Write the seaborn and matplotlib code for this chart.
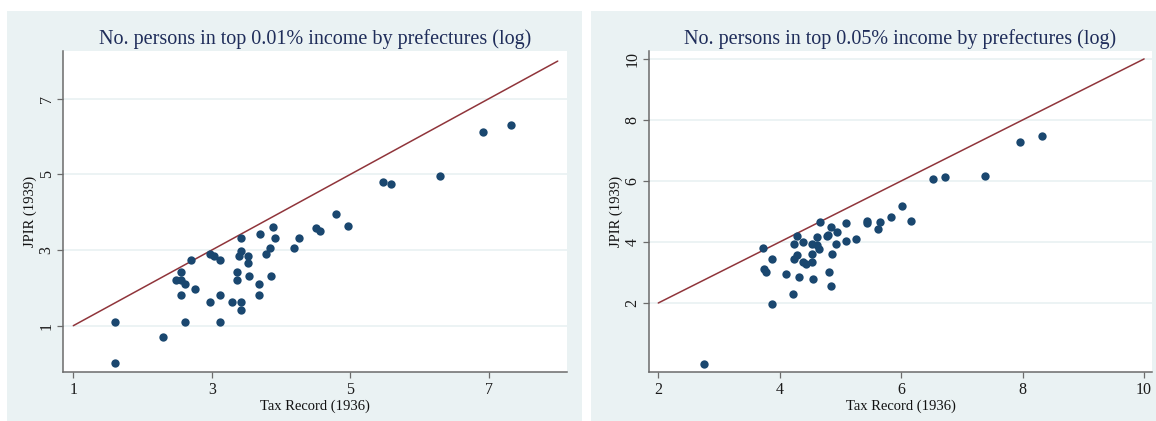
import matplotlib
matplotlib.use("Agg")
import matplotlib.pyplot as plt
import seaborn as sns
import pandas as pd
from matplotlib.patches import Rectangle

# ---------------- data ----------------
left_title = "No. persons in top 0.01% income by prefectures (log)"
right_title = "No. persons in top 0.05% income by prefectures (log)"
x_label = "Tax Record (1936)"
y_label = "JPIR (1939)"

left_tax = [1.60, 1.60, 2.30, 2.70, 2.55, 2.48, 2.55, 2.62, 2.76, 2.55, 2.62, 2.98,
            3.04, 3.12, 2.98, 3.12, 3.12, 3.29, 3.42, 3.42, 3.39, 3.52, 3.52, 3.36,
            3.36, 3.54, 3.42, 3.42, 3.70, 3.88, 3.91, 3.84, 3.79, 3.68, 3.68, 3.86,
            4.19, 4.26, 4.51, 4.56, 4.79, 4.97, 5.47, 5.59, 6.30, 6.92, 7.33]
left_jpir = [1.11, 0.00, 0.70, 2.74, 2.41, 2.21, 2.21, 2.10, 1.96, 1.80, 1.11, 2.90,
             2.85, 2.73, 1.63, 1.80, 1.11, 1.63, 3.31, 2.98, 2.85, 2.85, 2.66, 2.41,
             2.21, 2.32, 1.63, 1.41, 3.43, 3.60, 3.31, 3.06, 2.90, 2.10, 1.80, 2.32,
             3.06, 3.31, 3.58, 3.51, 3.95, 3.64, 4.81, 4.76, 4.96, 6.12, 6.31]

right_tax = [2.76, 3.73, 3.74, 3.77, 3.88, 3.88, 4.11, 4.22, 4.28, 4.24, 4.28, 4.23,
             4.38, 4.31, 4.38, 4.43, 4.53, 4.53, 4.55, 4.53, 4.62, 4.65, 4.62, 4.66,
             4.77, 4.80, 4.84, 4.94, 4.86, 4.92, 4.81, 4.85, 5.09, 5.09, 5.26, 5.43,
             5.43, 5.61, 5.65, 5.83, 6.02, 6.16, 6.52, 6.72, 7.38, 7.95, 8.32]
right_jpir = [0.00, 3.81, 3.11, 3.01, 3.44, 1.96, 2.95, 2.31, 4.20, 3.93, 3.58, 3.44,
              4.00, 2.85, 3.36, 3.27, 3.34, 3.62, 2.79, 3.93, 3.90, 3.77, 4.16, 4.65,
              4.21, 4.24, 4.48, 4.34, 3.62, 3.92, 3.01, 2.57, 4.61, 4.04, 4.10, 4.70,
              4.61, 4.43, 4.66, 4.83, 5.17, 4.70, 6.06, 6.14, 6.17, 7.27, 7.49]

left_line = [1, 8]      # 45-degree reference line
right_line = [2, 10]
left_ticks = [1, 3, 5, 7]
right_ticks = [2, 4, 6, 8, 10]

# ---------------- style ----------------
sns.set_theme(style="white")
plt.rcParams['font.family'] = ['Liberation Serif', 'DejaVu Serif']

BG = '#eaf2f3'
NAVY = '#1a476f'
MAROON = '#90353b'
AXC = '#6b6b6b'
TITLEC = '#1f2d5a'

W, H = 1156, 421
fig = plt.figure(figsize=(W / 100, H / 100), dpi=100)
fig.patch.set_facecolor('white')

# background panel axes (drawn first)
bgax = fig.add_axes([0, 0, 1, 1], zorder=-5)
bgax.set_xlim(0, W)
bgax.set_ylim(H, 0)
bgax.axis('off')
for x0, x1 in [(7, 582), (591, 1156)]:
    bgax.add_patch(Rectangle((x0, 11), x1 - x0, H - 11, facecolor=BG,
                             edgecolor='none'))

top, bottom = 51, 372
ax1 = fig.add_axes([63 / W, 1 - bottom / H, (567 - 63) / W, (bottom - top) / H])
ax2 = fig.add_axes([649 / W, 1 - bottom / H, (1152 - 649) / W, (bottom - top) / H])


def draw(ax, xs, ys, line, ticks, xlim, ylim, title):
    ax.set_facecolor('white')
    ax.set_axisbelow(True)
    ax.yaxis.grid(True, color=BG, linewidth=1.3)
    ax.xaxis.grid(False)
    df = pd.DataFrame({'tax': xs, 'jpir': ys})
    ldf = pd.DataFrame({'x': line, 'y': line})
    sns.lineplot(data=ldf, x='x', y='y', ax=ax, color=MAROON, linewidth=1.1,
                 estimator=None, zorder=2)
    sns.scatterplot(data=df, x='tax', y='jpir', ax=ax, color=NAVY, s=36,
                    linewidth=0, zorder=3)
    ax.set_xlim(*xlim)
    ax.set_ylim(*ylim)
    ax.set_xticks(ticks)
    ax.set_yticks(ticks)
    ax.set_xticklabels([str(t) for t in ticks], fontsize=11.5, color='#1a1a1a')
    ax.set_yticklabels([str(t) for t in ticks], fontsize=11.5, color='#1a1a1a',
                       rotation=90, va='center')
    for s in ['top', 'right']:
        ax.spines[s].set_visible(False)
    for s in ['left', 'bottom']:
        ax.spines[s].set_color(AXC)
        ax.spines[s].set_linewidth(1.1)
    ax.tick_params(axis='both', which='major', direction='out', length=4.5,
                   width=0.9, color=AXC, pad=3, left=True, bottom=True)
    ax.tick_params(axis='y', pad=1.5)
    ax.tick_params(axis='x', pad=2.5)
    ax.set_xlabel(x_label, fontsize=10.5, color='#111111', labelpad=1.5)
    ax.set_ylabel(y_label, fontsize=10.5, color='#111111', labelpad=1.5)
    ax.set_title(title, fontsize=14.5, color=TITLEC, pad=5)


draw(ax1, left_tax, left_jpir, left_line, left_ticks,
     (0.851, 8.134), (-0.225, 8.267), left_title)
draw(ax2, right_tax, right_jpir, right_line, right_ticks,
     (1.847, 10.13), (-0.262, 10.26), right_title)

fig.savefig('out.png', dpi=100)
